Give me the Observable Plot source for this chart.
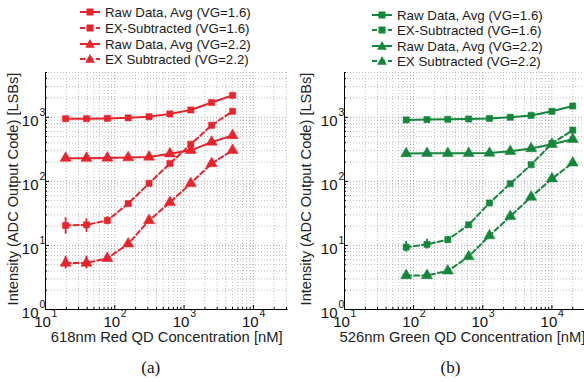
<!DOCTYPE html>
<html><head><meta charset="utf-8">
<script src="https://cdn.jsdelivr.net/npm/d3@7"></script>
<script src="https://cdn.jsdelivr.net/npm/@observablehq/plot@0.6"></script>
<style>
html,body{margin:0;padding:0;background:#fff;overflow:hidden;}
#wrap{position:relative;width:584px;height:382px;overflow:hidden;font-family:"Liberation Sans",Arial,sans-serif;}
.panel{position:absolute;top:0;height:382px;}
.legend{position:absolute;left:0;top:0;font-size:13.3px;color:#1a1a1a;}
.row{position:absolute;white-space:nowrap;display:flex;align-items:center;height:16px;}
.row svg{display:block;margin-right:4px;}
.ytitle{position:absolute;white-space:nowrap;font-size:14.6px;color:#222;transform:translate(-50%,-50%) rotate(-90deg);line-height:1;}
</style></head><body><div id="wrap"></div>
<script>
// ---- data ----
const seriesNames = ["Raw Data, Avg (VG=1.6)", "EX-Subtracted (VG=1.6)", "Raw Data, Avg (VG=2.2)", "EX Subtracted (VG=2.2)"];
const seriesSymbols = ["square", "square", "triangle", "triangle"];
const seriesDashed = [false, true, false, true];

// Panel (a): red QD
const concRed = [19.5, 39, 78, 156, 312, 625, 1250, 2500, 5000];
const rawRed16 = [950, 950, 960, 980, 1020, 1130, 1300, 1700, 2200];
const exRed16 = [20.5, 21, 24.5, 45, 93, 190, 380, 750, 1240];
const rawRed22 = [230, 230, 232, 235, 240, 270, 305, 410, 520];
const exRed22 = [5.3, 5.3, 6.3, 10.6, 24.5, 47, 93, 190, 305];
const errRed16Lo = [15, 16, 21];
const errRed16Hi = [27, 26, 28];
const errRed22Lo = [4.3, 4.3];
const errRed22Hi = [6.8, 6.8];

// Panel (b): green QD
const concGreen = [78, 156, 312, 625, 1250, 2500, 5000, 10000, 20000];
const rawGreen16 = [910, 920, 930, 940, 960, 1000, 1070, 1240, 1500];
const exGreen16 = [9.4, 10.4, 12.3, 21, 46, 92, 182, 390, 630];
const rawGreen22 = [271, 274, 274, 274, 276, 295, 325, 380, 455];
const exGreen22 = [3.4, 3.4, 4.0, 6.7, 14.2, 28.5, 57, 110, 194];
const errGreen16Lo = [7.9, 8.8, 11];
const errGreen16Hi = [11.5, 12.5, 13.8];
const errGreen22Lo = [3.0, 3.0];
const errGreen22Hi = [3.9, 3.9];

const xMajor = [10, 100, 1000, 10000];
const yMajor = [1, 10, 100, 1000];
const xDomain = [10, 31623];
const yDomain = [1, 5000];
const yTitle = "Intensity (ADC Output Code) [LSBs]";

function minors(lo, hi) {
  const out = [];
  for (let e = 0; e < 6; e++) for (let m = 2; m <= 9; m++) {
    const v = m * 10 ** e; if (v > lo && v <= hi) out.push(v);
  }
  return out;
}
const xMinor = minors(10, 31623);
const yMinor = minors(1, 5000);

function buildPanel(o) {
  const lines = [o.raw16, o.ex16, o.raw22, o.ex22];
  const rows = [];
  lines.forEach((arr, s) => arr.forEach((v, i) => rows.push({x: o.conc[i], y: v, s})));
  const errs = [];
  o.errLo16.forEach((lo, i) => errs.push({x: o.conc[i], lo, hi: o.errHi16[i]}));
  o.errLo22.forEach((lo, i) => errs.push({x: o.conc[i], lo, hi: o.errHi22[i]}));
  const grid = {stroke: "#9a9a9a", strokeOpacity: 0.8, strokeWidth: 0.8, strokeDasharray: "1,2"};
  const marks = [
    Plot.gridX(xMinor, grid),
    Plot.gridY(yMinor, grid),
    Plot.gridX(xMajor, {...grid, stroke: "#777"}),
    Plot.gridY(yMajor, {...grid, stroke: "#777"}),
    Plot.axisX(xMajor, {tickSize: -4, tickFormat: () => "", label: null}),
    Plot.axisX(xMinor, {tickSize: -2, tickFormat: () => "", label: null}),
    Plot.axisY(yMajor, {tickSize: -4, tickFormat: () => "", label: null}),
    Plot.axisY(yMinor, {tickSize: -2, tickFormat: () => "", label: null}),
    Plot.ruleX([xDomain[0]], {stroke: "#000", strokeWidth: 1}),
    Plot.ruleY([yDomain[0]], {stroke: "#000", strokeWidth: 1}),
    Plot.ruleX(errs, {x: "x", y1: "lo", y2: "hi", stroke: o.color, strokeWidth: 1.8})
  ];
  [0, 1, 2, 3].forEach(s => {
    const d = rows.filter(r => r.s === s);
    marks.push(Plot.line(d, {x: "x", y: "y", stroke: o.color, strokeWidth: 2,
      strokeDasharray: seriesDashed[s] ? "5,3" : null}));
    marks.push(Plot.dot(d, {x: "x", y: "y", fill: o.color, stroke: o.color, strokeWidth: 0.5,
      symbol: seriesSymbols[s], r: seriesSymbols[s] === "square" ? 3.5 : 4.1}));
  });
  marks.push(
    Plot.text(xMajor, {x: d => d, frameAnchor: "bottom", text: () => "10", dy: 17, dx: -3, fontSize: 15, fill: "#111"}),
    Plot.text(xMajor, {x: d => d, frameAnchor: "bottom", text: d => String(Math.round(Math.log10(d))), dy: 7, dx: 9, fontSize: 10.5, fill: "#111"}),
    Plot.text(yMajor, {y: d => d, frameAnchor: "left", text: () => "10", textAnchor: "end", dx: -7, dy: 4, fontSize: 15, fill: "#111"}),
    Plot.text(yMajor, {y: d => d, frameAnchor: "left", text: d => String(Math.round(Math.log10(d))), textAnchor: "start", dx: -6, dy: -5, fontSize: 10.5, fill: "#111"}),
    Plot.text([o.xlabel], {frameAnchor: "bottom", dy: 32, dx: o.xlabelDx, fontSize: 14.8, fill: "#222"}),
    Plot.text([o.tag], {frameAnchor: "bottom", dy: 63, dx: o.tagDx, fontSize: 17, fontFamily: "Liberation Serif, Times New Roman, serif", fill: "#111"})
  );
  return Plot.plot({
    width: o.width, height: 382,
    marginTop: 72, marginBottom: 73, marginLeft: o.marginLeft, marginRight: o.marginRight,
    style: {fontFamily: "Liberation Sans, Arial, sans-serif", background: "transparent", overflow: "visible"},
    x: {type: "log", domain: xDomain},
    y: {type: "log", domain: yDomain},
    marks
  });
}

function legend(color, left, rowsY) {
  const div = document.createElement("div");
  div.className = "legend";
  seriesNames.forEach((name, s) => {
    const row = document.createElement("div");
    row.className = "row";
    row.style.left = left + "px";
    row.style.top = (rowsY[s] - 8) + "px";
    const dash = seriesDashed[s] ? ' stroke-dasharray="5,3"' : "";
    const sym = seriesSymbols[s] === "square"
      ? `<rect x="7.5" y="4.5" width="7" height="7" fill="${color}"/>`
      : `<path d="M11,3 L15.8,11.8 L6.2,11.8 Z" fill="${color}"/>`;
    row.innerHTML = `<svg width="22" height="16"><line x1="1" x2="21" y1="8" y2="8" stroke="${color}" stroke-width="2"${dash}/>${sym}</svg><span>${name}</span>`;
    div.appendChild(row);
  });
  return div;
}

function yTitleDiv(cx, cy) {
  const d = document.createElement("div");
  d.className = "ytitle";
  d.style.left = cx + "px";
  d.style.top = cy + "px";
  d.textContent = yTitle;
  return d;
}

const wrap = document.getElementById("wrap");
const red = "#e8232b", green = "#15873d";

const pa = document.createElement("div"); pa.className = "panel"; pa.style.left = "0px"; pa.style.width = "292px";
pa.appendChild(buildPanel({conc: concRed, raw16: rawRed16, ex16: exRed16, raw22: rawRed22, ex22: exRed22,
  errLo16: errRed16Lo, errHi16: errRed16Hi, errLo22: errRed22Lo, errHi22: errRed22Hi,
  color: red, xlabel: "618nm Red QD Concentration [nM]", tag: "(a)", width: 292, marginLeft: 45, marginRight: 4.5,
  xlabelDx: 0, tagDx: -16}));
pa.appendChild(legend(red, 79, [12, 28, 44, 59]));
pa.appendChild(yTitleDiv(13, 189));
wrap.appendChild(pa);

const pb = document.createElement("div"); pb.className = "panel"; pb.style.left = "292px"; pb.style.width = "294px";
pb.appendChild(buildPanel({conc: concGreen, raw16: rawGreen16, ex16: exGreen16, raw22: rawGreen22, ex22: exGreen22,
  errLo16: errGreen16Lo, errHi16: errGreen16Hi, errLo22: errGreen22Lo, errHi22: errGreen22Hi,
  color: green, xlabel: "526nm Green QD Concentration [nM]", tag: "(b)", width: 294, marginLeft: 52, marginRight: 0,
  xlabelDx: -3, tagDx: -15}));
pb.appendChild(legend(green, 79, [15, 30, 46, 61]));
pb.appendChild(yTitleDiv(14, 189));
wrap.appendChild(pb);
</script>
</body></html>
